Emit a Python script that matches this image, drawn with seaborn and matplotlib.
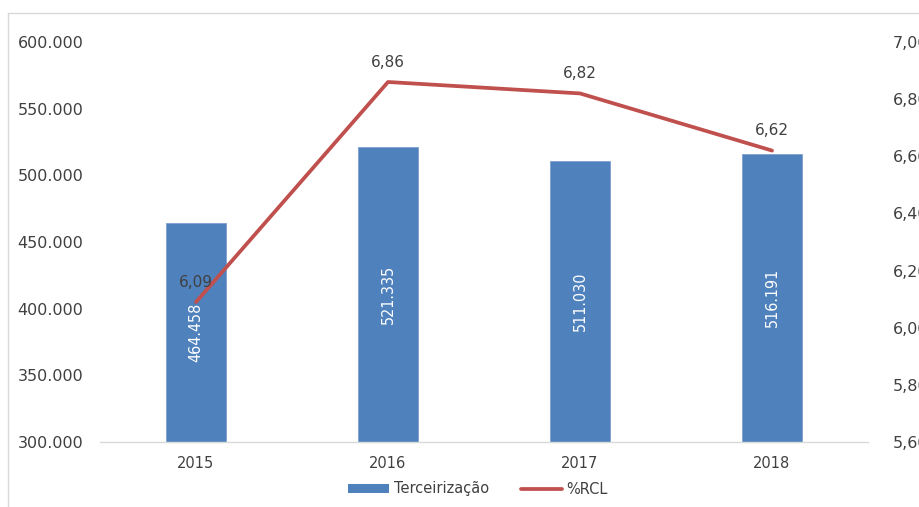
import matplotlib
matplotlib.use("Agg")
import matplotlib.pyplot as plt
import seaborn as sns
import pandas as pd
import numpy as np
from matplotlib.lines import Line2D
from matplotlib.patches import Patch

years = ["2015", "2016", "2017", "2018"]
terceirizacao = [464458, 521335, 511030, 516191]
rcl_pct = [6.09, 6.86, 6.82, 6.62]
left_ticks = [300000, 350000, 400000, 450000, 500000, 550000, 600000]
right_ticks = [5.6, 5.8, 6.0, 6.2, 6.4, 6.6, 6.8, 7.0]

sns.set_theme(style="white")
plt.rcParams["font.family"] = ["DejaVu Sans"]

BAR = "#4F81BD"
LINE = "#C0504D"
TXT = "#404040"
FS = 10.5

df = pd.DataFrame({"ano": years, "valor": terceirizacao, "pct": rcl_pct})

fig = plt.figure(figsize=(9.2, 5.07), dpi=100)
W, H = 920, 507
ax = fig.add_axes([100 / W, 1 - 442 / H, (868 - 100) / W, 400 / H])

sns.barplot(data=df, x="ano", y="valor", color=BAR, width=0.31, ax=ax,
            saturation=1, edgecolor="#7f9fcf", linewidth=0.6)
ax.set_ylim(300000, 600000)
ax.set_xlim(-0.5, 3.5)
ax.set_yticks(left_ticks)
ax.set_yticklabels([f"{v:,.0f}".replace(",", ".") for v in left_ticks],
                   fontsize=11.5, color=TXT)
ax.tick_params(axis="y", length=0, pad=12)
ax.tick_params(axis="x", length=0, pad=10, labelsize=FS, labelcolor=TXT)
ax.set_xlabel("")
ax.set_ylabel("")
for s in ["top", "right", "left"]:
    ax.spines[s].set_visible(False)
ax.spines["bottom"].set_color("#d9d9d9")
ax.spines["bottom"].set_linewidth(1)

for i, v in enumerate(terceirizacao):
    ax.text(i, (300000 + v) / 2, f"{v:,.0f}".replace(",", "."),
            rotation=90, ha="center", va="center", color="white",
            fontsize=11.5, fontstretch="condensed", family=["DejaVu Sans"])

ax2 = ax.twinx()
xs = np.arange(len(years))
sns.lineplot(x=xs, y=rcl_pct, ax=ax2, color=LINE, linewidth=2.7, legend=False)
ax2.set_ylim(5.6, 7.0)
ax2.set_xlim(-0.5, 3.5)
ax2.set_yticks(right_ticks)
ax2.set_yticklabels([f"{v:.2f}".replace(".", ",") for v in right_ticks],
                    fontsize=11.5, color=TXT)
ax2.tick_params(axis="y", length=0, pad=18)
ax2.set_ylabel("")
for s in ["top", "right", "left", "bottom"]:
    ax2.spines[s].set_visible(False)

for i, v in enumerate(rcl_pct):
    ax2.annotate(f"{v:.2f}".replace(".", ","), (i, v), xytext=(0, 9),
                 textcoords="offset points", ha="center", va="bottom",
                 fontsize=11, color=TXT)

handles = [Patch(facecolor=BAR, edgecolor="none"),
           Line2D([0], [0], color=LINE, linewidth=2.7)]
fig.legend(handles, ["Terceirização", "%RCL"], loc="center",
           bbox_to_anchor=(478 / W, 1 - 489 / H), ncol=2, frameon=False,
           fontsize=FS, handlelength=2.8, handleheight=0.55,
           columnspacing=2.2, handletextpad=0.3, labelcolor=TXT)

# outer frame lines (chart border)
fig.add_artist(Line2D([8 / W, 8 / W], [1 - 13 / H, 0], transform=fig.transFigure,
                      color="#d9d9d9", linewidth=1))
fig.add_artist(Line2D([8 / W, 1], [1 - 13 / H, 1 - 13 / H], transform=fig.transFigure,
                      color="#d9d9d9", linewidth=1))

fig.savefig("out.png", dpi=100)
